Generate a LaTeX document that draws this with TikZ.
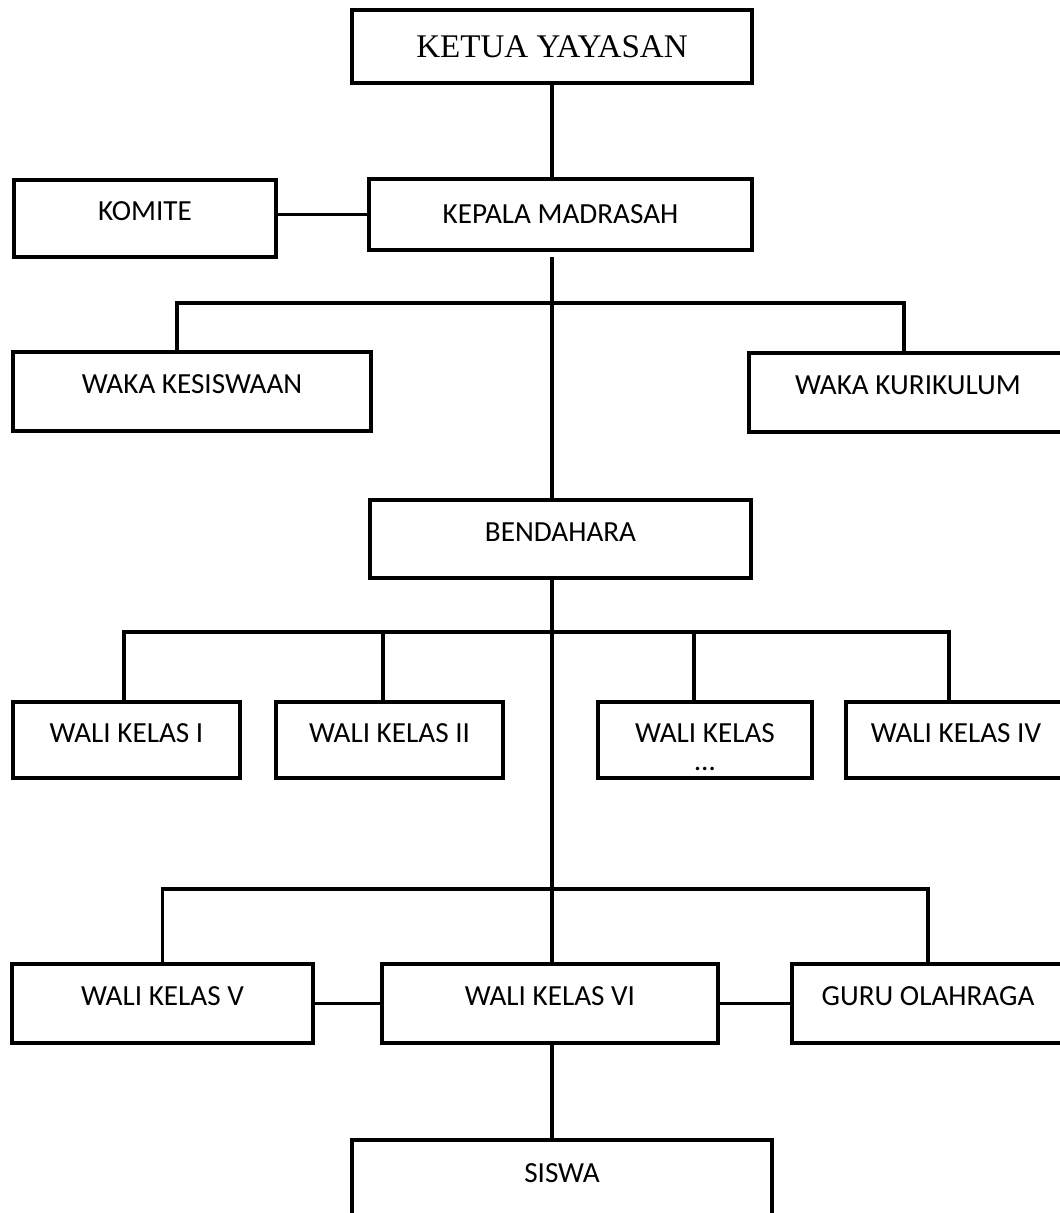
\documentclass[tikz,border=0pt]{standalone}
\usepackage{fontspec}
\setmainfont{Carlito}
\newfontfamily\headfont{Liberation Serif}
\usetikzlibrary{positioning}

\begin{document}
\begin{tikzpicture}[
  orgbox/.style={rectangle,draw=black,line width=2.2pt,fill=white,inner sep=0pt,font=\fontsize{16.6}{19}\selectfont},
  lifted/.style={text height=10.6pt,text depth=8pt},
  link/.style={line width=2.2pt,black},
]
\useasboundingbox (0,0) rectangle (21.18,-24.26);

% Top: yayasan and kepala
\node[orgbox,minimum width=8.00cm,minimum height=1.46cm,font=\headfont\fontsize{18.8}{22}\selectfont] (ketua) at (11.04,-0.93) {KETUA YAYASAN};
\node[orgbox,minimum width=7.66cm,minimum height=1.42cm] (kepala) at (11.21,-4.29) {KEPALA MADRASAH};
\node[orgbox,lifted,minimum width=5.24cm,minimum height=1.54cm] (komite) at (2.90,-4.37) {KOMITE};
\draw[link] (ketua.south) -- (ketua.south |- kepala.north);
\draw[link] (kepala.west) -- (kepala.west -| komite.east);

% Waka row
\node[orgbox,lifted,minimum width=7.16cm,minimum height=1.58cm] (kesiswaan) at (3.84,-7.83) {WAKA KESISWAAN};
\node[orgbox,lifted,minimum width=6.36cm,minimum height=1.58cm] (kurikulum) at (18.16,-7.85) {WAKA KURIKULUM};
\node[orgbox,lifted,minimum width=7.62cm,minimum height=1.56cm] (bendahara) at (11.21,-10.78) {BENDAHARA};
\coordinate (trunkA) at (11.04,-5.14);
\coordinate (kesL) at (3.54,-6.06);
\coordinate (kurR) at (18.08,-6.06);
\draw[link] (trunkA) -- (trunkA |- bendahara.north);
\draw[link] (kesiswaan.north -| kesL) -- (kesL) -- (kurR) -- (kurikulum.north -| kurR);

% Wali kelas I - IV
\node[orgbox,lifted,minimum width=4.54cm,minimum height=1.52cm] (walisatu) at (2.53,-14.80) {WALI KELAS I};
\node[orgbox,lifted,minimum width=4.54cm,minimum height=1.52cm] (walidua) at (7.79,-14.80) {WALI KELAS II};
\node[orgbox,align=center,minimum width=4.28cm,minimum height=1.52cm] (walidots) at (14.10,-14.80) {\rule{0pt}{18.5pt}WALI KELAS\\[-3pt]…};
\node[orgbox,lifted,minimum width=4.40cm,minimum height=1.52cm] (waliempat) at (19.12,-14.80) {WALI KELAS IV};
\foreach \n/\x in {walisatu/2.48, walidua/7.66, walidots/13.88, waliempat/18.98}{
  \coordinate (d\n) at (\x,-12.64);
  \draw[link] (d\n) -- (d\n |- \n.north);
}
\draw[link] (walisatu.north -| dwalisatu) -- (dwalisatu) -- (dwaliempat) -- (waliempat.north -| dwaliempat);

% Wali kelas V, VI and guru
\node[orgbox,lifted,minimum width=6.02cm,minimum height=1.58cm] (walilima) at (3.25,-20.07) {WALI KELAS V};
\node[orgbox,lifted,minimum width=6.72cm,minimum height=1.58cm] (walienam) at (11.00,-20.07) {WALI KELAS VI};
\node[orgbox,lifted,minimum width=5.44cm,minimum height=1.58cm] (guru) at (18.56,-20.07) {GURU OLAHRAGA};
\coordinate (barC) at (11.04,-17.78);
\draw[link] (ketua.south |- bendahara.south) -- (ketua.south |- walienam.north);
\draw[link] (walilima.north) |- (barC) -| (guru.north);
\draw[link] (walilima) -- (walienam);
\draw[link] (walienam) -- (guru);

% Siswa
\node[orgbox,lifted,minimum width=8.40cm,minimum height=1.60cm] (siswa) at (11.24,-23.60) {SISWA};
\draw[link] (ketua.south |- walienam.south) -- (ketua.south |- siswa.north);
\end{tikzpicture}
\end{document}
